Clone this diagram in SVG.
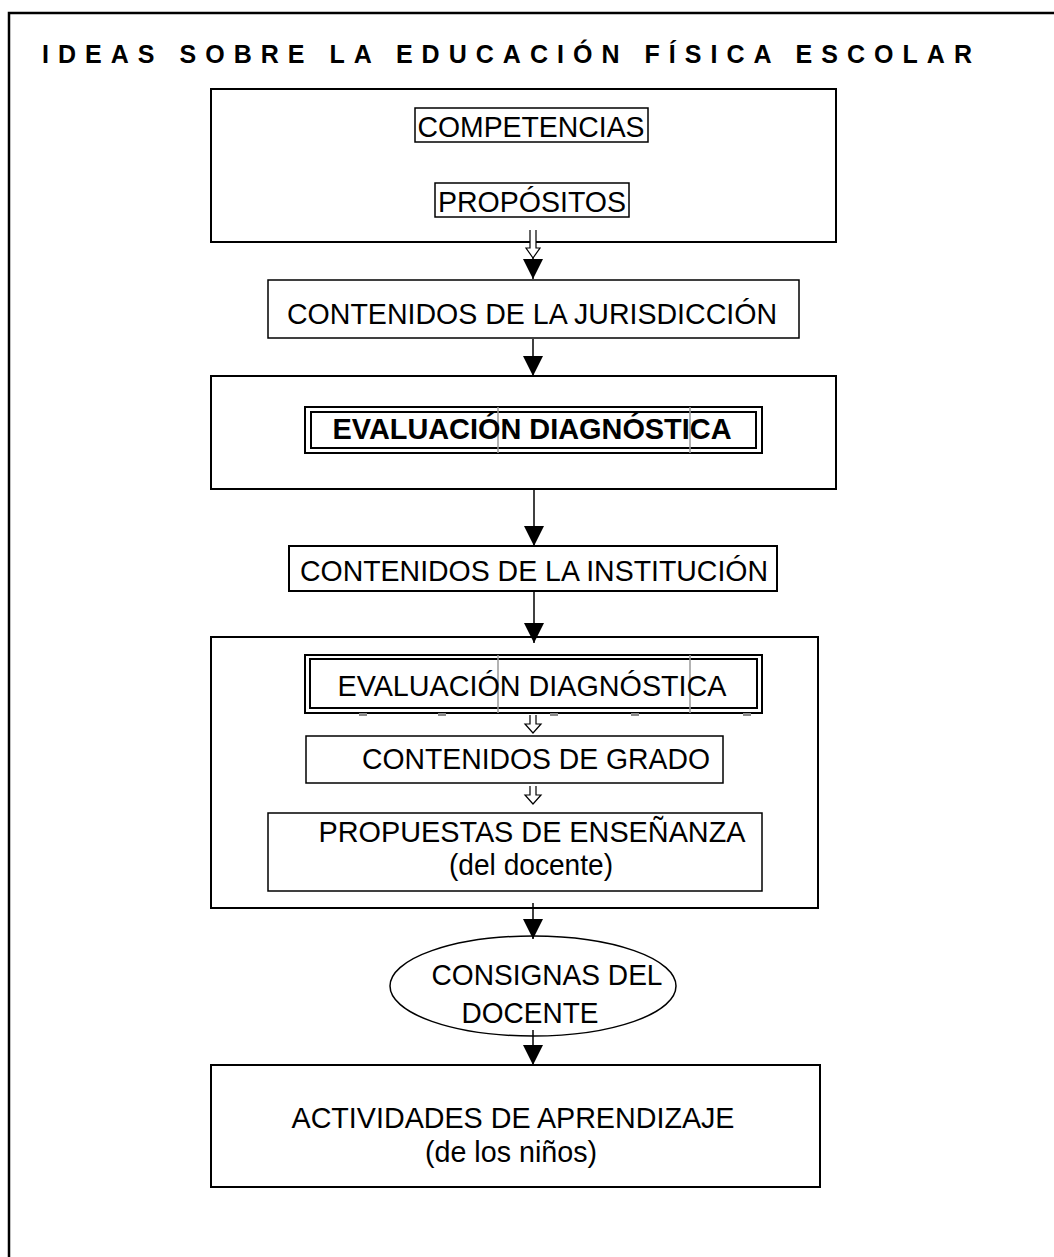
<svg xmlns="http://www.w3.org/2000/svg" width="1054" height="1257" viewBox="0 0 1054 1257">
  <style>
    .frame { fill: none; stroke: #000; stroke-width: 2.5; }
    .box { fill: #fff; stroke: #000; stroke-width: 2; }
    .thin { fill: #fff; stroke: #000; stroke-width: 1.5; }
    .dbl { fill: none; stroke: #000; stroke-width: 2; }
    .cell { stroke: #9a9a9a; stroke-width: 1.5; }
    .lbl { font-family: "Liberation Sans", Arial, sans-serif; font-size: 30px; fill: #000; text-anchor: middle; }
    .bold { font-weight: bold; }
    .title { font-family: "Liberation Sans", Arial, sans-serif; font-size: 25px; font-weight: bold; fill: #000; }
    .conn { stroke: #000; stroke-width: 1.5; fill: none; marker-end: url(#tri); }
    .dbl-arrow { stroke: #000; stroke-width: 1.2; fill: #fff; stroke-linejoin: miter; }
  </style>
  <defs>
    <marker id="tri" viewBox="0 0 20 20" markerWidth="20" markerHeight="20" refX="20" refY="10" orient="auto" markerUnits="userSpaceOnUse">
      <path d="M0,0 L20,10 L0,20 z" fill="#000"/>
    </marker>
  </defs>

  <rect width="1054" height="1257" fill="#fff"/>

  <!-- page frame (runs off the right and bottom edges) -->
  <rect class="frame" x="9" y="13" width="1060" height="1260"/>

  <text class="title" x="42" y="63" textLength="930" lengthAdjust="spacing">IDEAS SOBRE LA EDUCACIÓN FÍSICA ESCOLAR</text>

  <g id="node-objetivos">
    <rect class="box" x="211" y="89" width="625" height="153"/>
    <rect class="thin" x="415" y="108" width="233" height="34"/>
    <text class="lbl" x="531" y="137" textLength="227" lengthAdjust="spacingAndGlyphs">COMPETENCIAS</text>
    <rect class="thin" x="435" y="183" width="194" height="34"/>
    <text class="lbl" x="532" y="212" textLength="188" lengthAdjust="spacingAndGlyphs">PROPÓSITOS</text>
  </g>

  <g id="node-jurisdiccion">
    <rect class="thin" x="268" y="280" width="531" height="58"/>
    <text class="lbl" x="532" y="324" textLength="490" lengthAdjust="spacingAndGlyphs">CONTENIDOS DE LA JURISDICCIÓN</text>
  </g>

  <g id="node-evaluacion-1">
    <rect class="box" x="211" y="376" width="625" height="113"/>
    <rect class="dbl" x="305" y="407" width="457" height="46"/>
    <rect class="dbl" x="311" y="412" width="445" height="36"/>
    <line class="cell" x1="498" y1="407" x2="498" y2="453"/>
    <line class="cell" x1="690" y1="407" x2="690" y2="453"/>
    <text class="lbl bold" x="532" y="439" textLength="399" lengthAdjust="spacingAndGlyphs">EVALUACIÓN DIAGNÓSTICA</text>
  </g>

  <g id="node-institucion">
    <rect class="box" x="289" y="546" width="488" height="45"/>
    <text class="lbl" x="534" y="581" textLength="468" lengthAdjust="spacingAndGlyphs">CONTENIDOS DE LA INSTITUCIÓN</text>
  </g>

  <g id="node-aula">
    <rect class="box" x="211" y="637" width="607" height="271"/>
    <rect class="dbl" x="305" y="655" width="457" height="58"/>
    <rect class="dbl" x="310" y="659" width="447" height="49"/>
    <line class="cell" x1="498" y1="655" x2="498" y2="713"/>
    <line class="cell" x1="690" y1="655" x2="690" y2="713"/>
    <g fill="#8a8a8a">
      <rect x="359" y="713" width="8" height="3"/>
      <rect x="438" y="713" width="8" height="3"/>
      <rect x="550" y="713" width="8" height="3"/>
      <rect x="631" y="713" width="8" height="3"/>
      <rect x="743" y="713" width="8" height="3"/>
    </g>
    <text class="lbl" x="532" y="696" textLength="389" lengthAdjust="spacingAndGlyphs">EVALUACIÓN DIAGNÓSTICA</text>

    <rect class="thin" x="306" y="736" width="417" height="47"/>
    <text class="lbl" x="536" y="769" textLength="348" lengthAdjust="spacingAndGlyphs">CONTENIDOS DE GRADO</text>

    <rect class="thin" x="268" y="813" width="494" height="78"/>
    <text class="lbl" x="532" y="842" textLength="427" lengthAdjust="spacingAndGlyphs">PROPUESTAS DE ENSEÑANZA</text>
    <text class="lbl" x="531" y="875" textLength="164" lengthAdjust="spacingAndGlyphs">(del docente)</text>
  </g>

  <g id="node-consignas">
    <ellipse cx="533" cy="986" rx="143" ry="50" fill="#fff" stroke="#000" stroke-width="1.5"/>
    <text class="lbl" x="547" y="985" textLength="231" lengthAdjust="spacingAndGlyphs">CONSIGNAS DEL</text>
    <text class="lbl" x="530" y="1023" textLength="137" lengthAdjust="spacingAndGlyphs">DOCENTE</text>
  </g>

  <g id="node-actividades">
    <rect class="box" x="211" y="1065" width="609" height="122"/>
    <text class="lbl" x="513" y="1128" textLength="443" lengthAdjust="spacingAndGlyphs">ACTIVIDADES DE APRENDIZAJE</text>
    <text class="lbl" x="511" y="1162" textLength="172" lengthAdjust="spacingAndGlyphs">(de los niños)</text>
  </g>

  <!-- connectors, drawn over the boxes -->
  <g id="connectors">
    <line class="conn" x1="533" y1="243" x2="533" y2="279"/>
    <line class="conn" x1="533" y1="339" x2="533" y2="376"/>
    <line class="conn" x1="534" y1="490" x2="534" y2="546"/>
    <line class="conn" x1="534" y1="592" x2="534" y2="643"/>
    <line class="conn" x1="533" y1="903" x2="533" y2="939"/>
    <line class="conn" x1="533" y1="1030" x2="533" y2="1065"/>
    <!-- hollow double-shaft arrows -->
    <path class="dbl-arrow" d="M530,230 V248 H526 L533,258 L540,248 H536 V230"/>
    <path class="dbl-arrow" d="M530,715 V724 H525 L533,733 L541,724 H536 V715"/>
    <path class="dbl-arrow" d="M530,786 V795 H525 L533,804 L541,795 H536 V786"/>
  </g>
</svg>
